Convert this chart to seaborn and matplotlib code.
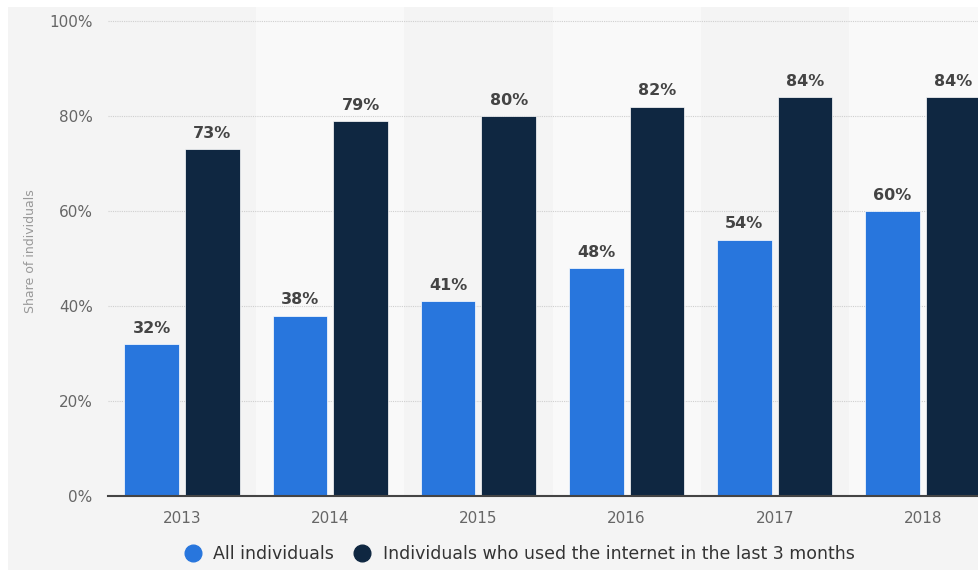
import pandas as pd
import numpy as np
import matplotlib.pyplot as plt
import seaborn as sns
from matplotlib.patches import Rectangle
from matplotlib.lines import Line2D

years = ["2013", "2014", "2015", "2016", "2017", "2018"]
all_individuals = [32, 38, 41, 48, 54, 60]
internet_users = [73, 79, 80, 82, 84, 84]
series_names = ["All individuals", "Individuals who used the internet in the last 3 months"]
colors = ["#2876dd", "#0f2741"]

df = pd.DataFrame({
    "Year": years * 2,
    "Share": all_individuals + internet_users,
    "Series": [series_names[0]] * len(years) + [series_names[1]] * len(years),
})

plt.rcParams["font.family"] = ["DejaVu Sans"]

fig = plt.figure(figsize=(9.79, 5.70), dpi=100, facecolor="white")
# gray panel behind the chart
fig.patches.append(Rectangle((8 / 979, 0), 1, (570 - 7) / 570, transform=fig.transFigure,
                             facecolor="#f4f4f4", edgecolor="none", zorder=-5))

ax = fig.add_axes([108 / 979, 74 / 570, 889 / 979, 489 / 570])
ax.set_zorder(2)
ax.set_facecolor("#f4f4f4")

# alternating column bands
for i in range(1, len(years), 2):
    ax.axvspan(i - 0.5, i + 0.5, color="#f9f9f9", zorder=0, lw=0)

sns.barplot(data=df, x="Year", y="Share", hue="Series", palette=colors,
            width=0.82, gap=0.1, ax=ax, legend=False, zorder=3, saturation=1,
            edgecolor="#ffffff", linewidth=0.5)

for c in ax.containers:
    ax.bar_label(c, labels=[f"{v:.0f}%" for v in c.datavalues], padding=6,
                 fontsize=11.5, fontweight="bold", color="#444444")

ax.set_xlim(-0.5, len(years) - 0.5)
ax.set_ylim(0, 103)
ax.set_yticks([0, 20, 40, 60, 80, 100])
ax.set_yticklabels(["0%", "20%", "40%", "60%", "80%", "100%"])
ax.yaxis.grid(True, linestyle=(0, (1, 1)), color="#cfcfcf", lw=0.8, zorder=1)
ax.set_axisbelow(True)
ax.tick_params(axis="both", length=0, labelsize=11, labelcolor="#666666")
ax.tick_params(axis="x", pad=11)
ax.tick_params(axis="y", pad=11)
for s in ["top", "right", "left"]:
    ax.spines[s].set_visible(False)
ax.spines["bottom"].set_color("#444444")
ax.spines["bottom"].set_linewidth(1.5)
ax.spines["bottom"].set_zorder(4)
ax.set_xlabel("")
ax.set_ylabel("Share of individuals", fontsize=9, color="#999999", labelpad=9)

handles = [Line2D([], [], marker="o", linestyle="", markersize=12,
                  markerfacecolor=col, markeredgecolor=col) for col in colors]
fig.legend(handles, series_names, loc="center", bbox_to_anchor=(515 / 979, 16 / 570),
           ncol=2, frameon=False, fontsize=12.5, labelcolor="#333333",
           handletextpad=0.2, columnspacing=0.6)

fig.savefig("out.png", dpi=100, facecolor="white")
